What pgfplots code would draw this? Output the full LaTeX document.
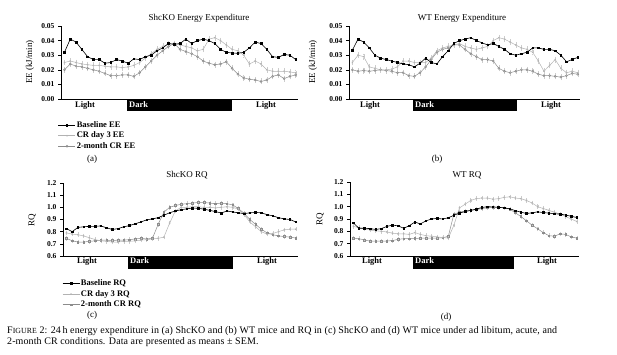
\documentclass[border=0pt]{standalone}
\usepackage{fontspec}
\setmainfont{Liberation Serif}
\usepackage{pgfplots}
\usepackage{pgfplotstable}
\pgfplotsset{compat=1.18}

\pgfplotstableread{
i base cr3 m2
0 0.032 0.025 0.020
1 0.041 0.026 0.024
2 0.039 0.025 0.0225
3 0.034 0.024 0.022
4 0.029 0.0235 0.021
5 0.027 0.023 0.020
6 0.027 0.023 0.019
7 0.0245 0.0225 0.0175
8 0.025 0.022 0.016
9 0.027 0.022 0.016
10 0.026 0.0215 0.0165
11 0.0245 0.022 0.0165
12 0.0275 0.023 0.0155
13 0.027 0.025 0.018
14 0.029 0.028 0.022
15 0.030 0.031 0.026
16 0.033 0.034 0.030
17 0.035 0.036 0.033
18 0.038 0.0375 0.036
19 0.0375 0.038 0.038
20 0.038 0.037 0.034
21 0.041 0.036 0.0325
22 0.038 0.035 0.031
23 0.040 0.033 0.029
24 0.041 0.034 0.026
25 0.040 0.041 0.0245
26 0.038 0.042 0.0235
27 0.034 0.040 0.024
28 0.032 0.037 0.0255
29 0.0315 0.034 0.021
30 0.0313 0.033 0.017
31 0.032 0.030 0.0145
32 0.035 0.024 0.0135
33 0.039 0.026 0.013
34 0.038 0.024 0.012
35 0.034 0.020 0.013
36 0.029 0.019 0.0155
37 0.0285 0.019 0.0165
38 0.0305 0.019 0.014
39 0.030 0.0185 0.0155
40 0.027 0.018 0.0165
}\tabA

\pgfplotstableread{
i base cr3 m2
0 0.0335 0.025 0.020
1 0.041 0.030 0.019
2 0.039 0.029 0.0195
3 0.035 0.022 0.019
4 0.030 0.021 0.0195
5 0.028 0.020 0.020
6 0.027 0.020 0.0195
7 0.026 0.0205 0.019
8 0.025 0.022 0.018
9 0.024 0.026 0.018
10 0.0235 0.026 0.016
11 0.022 0.025 0.0155
12 0.0245 0.025 0.018
13 0.028 0.025 0.022
14 0.025 0.028 0.027
15 0.024 0.033 0.032
16 0.029 0.035 0.034
17 0.033 0.036 0.035
18 0.038 0.037 0.037
19 0.040 0.038 0.037
20 0.041 0.036 0.034
21 0.042 0.035 0.031
22 0.040 0.034 0.029
23 0.0385 0.035 0.027
24 0.037 0.036 0.027
25 0.038 0.040 0.026
26 0.036 0.042 0.021
27 0.034 0.041 0.019
28 0.031 0.039 0.018
29 0.030 0.037 0.019
30 0.031 0.035 0.020
31 0.032 0.034 0.020
32 0.035 0.032 0.019
33 0.035 0.026 0.017
34 0.034 0.019 0.016
35 0.034 0.023 0.016
36 0.033 0.027 0.0155
37 0.030 0.021 0.015
38 0.0255 0.018 0.016
39 0.027 0.019 0.0175
40 0.0285 0.018 0.017
}\tabB

\pgfplotstableread{
i base cr3 m2
0 0.825 0.79 0.745
1 0.80 0.78 0.725
2 0.835 0.775 0.715
3 0.84 0.765 0.715
4 0.844 0.75 0.72
5 0.844 0.735 0.725
6 0.847 0.725 0.73
7 0.832 0.72 0.73
8 0.818 0.715 0.728
9 0.825 0.715 0.73
10 0.84 0.72 0.73
11 0.85 0.72 0.735
12 0.865 0.725 0.74
13 0.88 0.73 0.745
14 0.897 0.735 0.74
15 0.905 0.74 0.745
16 0.915 0.745 0.86
17 0.935 0.755 0.96
18 0.955 0.87 1.0
19 0.97 0.97 1.015
20 0.98 1.0 1.025
21 0.988 1.0 1.03
22 0.994 1.005 1.035
23 0.992 1.005 1.04
24 0.985 1.0 1.04
25 0.975 1.0 1.035
26 0.965 0.995 1.03
27 0.953 1.0 1.035
28 0.97 1.005 1.03
29 0.962 1.0 1.02
30 0.955 0.985 0.99
31 0.948 0.94 0.95
32 0.955 0.88 0.90
33 0.958 0.84 0.86
34 0.955 0.80 0.82
35 0.94 0.78 0.79
36 0.93 0.785 0.775
37 0.915 0.80 0.765
38 0.905 0.815 0.76
39 0.90 0.82 0.755
40 0.88 0.82 0.748
}\tabC

\pgfplotstableread{
i base cr3 m2
0 0.868 0.84 0.745
1 0.825 0.83 0.74
2 0.825 0.82 0.73
3 0.822 0.81 0.72
4 0.815 0.805 0.72
5 0.822 0.80 0.72
6 0.84 0.795 0.722
7 0.85 0.785 0.725
8 0.845 0.78 0.735
9 0.825 0.78 0.74
10 0.845 0.775 0.74
11 0.875 0.79 0.742
12 0.86 0.775 0.745
13 0.885 0.765 0.745
14 0.90 0.76 0.745
15 0.905 0.755 0.745
16 0.90 0.75 0.748
17 0.91 0.745 0.76
18 0.93 0.85 0.94
19 0.948 0.99 0.955
20 0.96 1.02 0.965
21 0.97 1.05 0.97
22 0.98 1.065 0.975
23 0.993 1.07 0.985
24 1.0 1.07 0.99
25 0.998 1.06 0.995
26 0.995 1.065 0.995
27 0.99 1.075 0.99
28 0.983 1.08 0.98
29 0.968 1.07 0.95
30 0.955 1.065 0.92
31 0.945 1.05 0.885
32 0.95 1.03 0.85
33 0.958 1.0 0.82
34 0.952 0.985 0.79
35 0.948 0.97 0.765
36 0.942 0.955 0.76
37 0.94 0.94 0.78
38 0.932 0.92 0.775
39 0.922 0.90 0.755
40 0.912 0.88 0.745
}\tabD

\definecolor{lgray}{gray}{0.70}
\definecolor{mgray}{gray}{0.55}
\definecolor{egray}{gray}{0.80}

\pgfplotsset{
  panel/.style={
    scale only axis, anchor=south west,
    axis lines=left, axis line style={-, line width=0.5pt},
    xmin=-0.6, xmax=40.4, xtick=\empty,
    tick align=outside, major tick length=3pt,
    ytick style={line width=0.5pt, black},
    yticklabel style={font=\fontsize{7.5}{8}\selectfont\bfseries},
    /pgf/number format/assume math mode=true,
    scaled y ticks=false,
    clip=false,
    legend cell align=left,
    legend style={draw=none, fill=none, inner sep=0pt, row sep=1.2pt,
      font=\fontsize{8.5}{9}\selectfont\bfseries,
      nodes={inner sep=1pt}},
    reverse legend,
  },
  ee/.style={panel, ymin=0, ymax=0.05, ytick={0,0.01,0.02,0.03,0.04,0.05},
    yticklabel={\pgfmathprintnumber[fixed,fixed zerofill,precision=2]{\tick}}},
  rq/.style={panel, ymin=0.6, ymax=1.2, ytick={0.6,0.7,0.8,0.9,1.0,1.1,1.2},
    yticklabel={\pgfmathprintnumber[fixed,fixed zerofill,precision=1]{\tick}}},
  basel/.style={black, line width=0.6pt, mark=square*, mark size=0.8pt},
  crthree/.style={lgray, line width=0.5pt, mark=x, mark size=0.9pt,
    mark options={lgray}},
  mtwo/.style={mgray, line width=0.5pt, mark=o, mark size=1.0pt,
    mark options={mgray}},
  mtwoq/.style={mgray, line width=0.5pt, mark=square, mark size=0.8pt,
    mark options={mgray}},
  errE/.style={error bars/.cd, y dir=both, y fixed=0.0015,
    error bar style={egray, line width=0.3pt},
    error mark options={egray, mark size=0.8pt}},
  errR/.style={error bars/.cd, y dir=both, y fixed=0.012,
    error bar style={egray, line width=0.3pt},
    error mark options={egray, mark size=0.8pt}},
}

\newcommand{\lbl}{\fontsize{8.5}{9}\selectfont\bfseries}
\newcommand{\ttl}{\fontsize{9}{10}\selectfont}

\begin{document}
\begin{tikzpicture}
\useasboundingbox (0,0) rectangle (617pt,-355pt);

% (a)
\begin{axis}[ee, at={(61pt,-99pt)}, width=237pt, height=73pt,
  legend style={at={(axis description cs:-0.013,-0.29)}, anchor=north west}]
\addplot[mtwo, errE] table[x=i,y=m2]{\tabA};
\addplot[crthree, errE] table[x=i,y=cr3]{\tabA};
\addplot[basel] table[x=i,y=base]{\tabA};
\legend{2-month CR EE, CR day 3 EE, Baseline EE}
\end{axis}

% (b)
\begin{axis}[ee, at={(349pt,-99pt)}, width=231pt, height=73pt]
\addplot[mtwo, errE] table[x=i,y=m2]{\tabB};
\addplot[crthree, errE] table[x=i,y=cr3]{\tabB};
\addplot[basel] table[x=i,y=base]{\tabB};
\end{axis}

% (c)
\begin{axis}[rq, at={(63pt,-256pt)}, width=235pt, height=73pt,
  legend style={at={(axis description cs:-0.004,-0.31)}, anchor=north west}]
\addplot[mtwoq, errR] table[x=i,y=m2]{\tabC};
\addplot[crthree, errR] table[x=i,y=cr3]{\tabC};
\addplot[basel] table[x=i,y=base]{\tabC};
\legend{2-month CR RQ, CR day 3 RQ, Baseline RQ}
\end{axis}

% (d)
\begin{axis}[rq, at={(350pt,-256pt)}, width=229pt, height=74pt]
\addplot[mtwoq, errR] table[x=i,y=m2]{\tabD};
\addplot[crthree, errR] table[x=i,y=cr3]{\tabD};
\addplot[basel] table[x=i,y=base]{\tabD};
\end{axis}

% titles
\node[font=\ttl] at (199pt,-18pt) {ShcKO Energy Expenditure};
\node[font=\ttl] at (462pt,-18pt) {WT Energy Expenditure};
\node[font=\ttl] at (187pt,-175pt) {ShcKO RQ};
\node[font=\ttl] at (467pt,-175pt) {WT RQ};

% y labels
\node[font=\ttl, rotate=90] at (30pt,-62pt) {EE (kJ/min)};
\node[font=\ttl, rotate=90] at (313pt,-62pt) {EE (kJ/min)};
\node[font=\ttl, rotate=90] at (32pt,-220pt) {RQ};
\node[font=\ttl, rotate=90] at (320pt,-219pt) {RQ};

% light/dark bars
\fill[black] (127pt,-99.5pt) rectangle (232pt,-111.5pt);
\node[font=\lbl, white, anchor=west, inner sep=0pt] at (129pt,-105pt) {Dark};
\node[font=\lbl, inner sep=0pt] at (85pt,-105pt) {Light};
\node[font=\lbl, inner sep=0pt] at (266pt,-105pt) {Light};

\fill[black] (413pt,-99.5pt) rectangle (517pt,-111.5pt);
\node[font=\lbl, white, anchor=west, inner sep=0pt] at (415pt,-105pt) {Dark};
\node[font=\lbl, inner sep=0pt] at (370pt,-105pt) {Light};
\node[font=\lbl, inner sep=0pt] at (551pt,-105pt) {Light};

\fill[black] (128pt,-256.5pt) rectangle (233pt,-268.5pt);
\node[font=\lbl, white, anchor=west, inner sep=0pt] at (130pt,-261pt) {Dark};
\node[font=\lbl, inner sep=0pt] at (87pt,-261pt) {Light};
\node[font=\lbl, inner sep=0pt] at (267pt,-261pt) {Light};

\fill[black] (413pt,-256.5pt) rectangle (514pt,-268.5pt);
\node[font=\lbl, white, anchor=west, inner sep=0pt] at (415pt,-261pt) {Dark};
\node[font=\lbl, inner sep=0pt] at (372pt,-261pt) {Light};
\node[font=\lbl, inner sep=0pt] at (547pt,-261pt) {Light};

% panel letters
\node[font=\ttl] at (92pt,-159pt) {(a)};
\node[font=\ttl] at (437pt,-159pt) {(b)};
\node[font=\ttl] at (92pt,-315pt) {(c)};
\node[font=\ttl] at (446pt,-317pt) {(d)};

% caption
\node[font=\fontsize{10}{11}\selectfont\addfontfeature{LetterSpace=1}, anchor=base west, inner sep=0pt] at (7pt,-333pt)
  {F{\fontsize{7.8}{8}\selectfont IGURE} 2: 24\,h energy expenditure in (a) ShcKO and (b) WT mice and RQ in (c) ShcKO and (d) WT mice under ad libitum, acute, and};
\node[font=\fontsize{10}{11}\selectfont\addfontfeature{LetterSpace=1}, anchor=base west, inner sep=0pt] at (7pt,-344pt)
  {2-month CR conditions. Data are presented as means ± SEM.};
\end{tikzpicture}
\end{document}
